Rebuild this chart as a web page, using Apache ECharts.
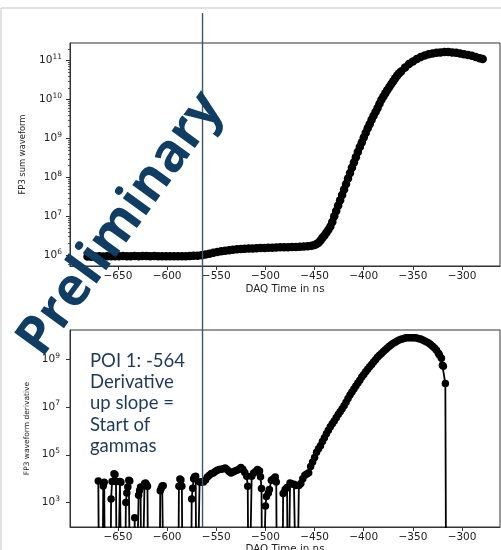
<!DOCTYPE html>
<html><head><meta charset="utf-8">
<script src="https://cdn.jsdelivr.net/npm/echarts@6/dist/echarts.min.js"></script>
<style>html,body{margin:0;padding:0;background:#fff}#c{width:501px;height:550px}</style>
</head><body><div id="c"></div>
<script>
// ---- data ----
const xTicks = [-650, -600, -550, -500, -450, -400, -350, -300];
const sumTicks = [1e6, 1e7, 1e8, 1e9, 1e10, 1e11];
const derivTicks = [1e3, 1e5, 1e7, 1e9];
const poiTime = -564;
const xRange = [-698.8, -261.4];
const sumRange = [5.31e5, 2.82e11];
const derivRange = [95, 1.66e10];

// FP3 sum waveform: [time ns, value]
const sumWaveform = [
 [-681,9.3e5],[-677,9.2e5],[-673,9.3e5],[-669,9.4e5],[-665,9.3e5],[-661,9.4e5],[-657,9.5e5],[-653,9.4e5],
 [-649,9.5e5],[-645,9.6e5],[-641,9.5e5],[-637,9.5e5],[-633,9.6e5],[-629,9.5e5],[-625,9.6e5],[-621,9.6e5],
 [-617,9.5e5],[-613,9.6e5],[-609,9.5e5],[-605,9.4e5],[-601,9.5e5],[-597,9.4e5],[-593,9.5e5],[-589,9.4e5],
 [-585,9.5e5],[-581,9.5e5],[-577,9.6e5],[-573,9.7e5],[-569,9.8e5],
 [-565,1.0e6],[-561,1.05e6],[-557,1.1e6],[-553,1.16e6],[-549,1.22e6],[-545,1.27e6],[-541,1.31e6],[-537,1.35e6],
 [-533,1.39e6],[-529,1.42e6],[-525,1.45e6],[-521,1.47e6],[-517,1.49e6],[-513,1.5e6],[-509,1.52e6],[-505,1.54e6],
 [-501,1.55e6],[-497,1.56e6],[-493,1.57e6],[-489,1.58e6],[-485,1.6e6],[-481,1.61e6],[-477,1.62e6],[-473,1.63e6],
 [-469,1.64e6],[-465,1.65e6],[-461,1.67e6],[-457,1.7e6],[-453,1.76e6],[-450,1.85e6],[-448,1.95e6],
 [-446,2.1e6],[-444,2.4e6],[-442,2.8e6],[-440,3.2e6],[-438,3.8e6],[-436,4.5e6],[-434,5.5e6],[-432,7.2e6],
 [-430,1.0e7],[-428,1.38e7],[-426,1.9e7],[-424,2.6e7],[-422,3.55e7],[-420,4.9e7],[-418,6.8e7],[-416,9.3e7],
 [-414,1.29e8],[-412,1.78e8],[-410,2.4e8],[-408,3.3e8],[-406,4.5e8],[-404,6.0e8],[-402,7.9e8],[-400,1.05e9],
 [-398,1.38e9],[-396,1.82e9],[-394,2.3e9],[-392,3.0e9],[-390,3.8e9],[-388,4.8e9],[-386,6.0e9],[-384,7.8e9],
 [-382,9.8e9],[-380,1.2e10],[-378,1.45e10],[-376,1.74e10],[-374,2.1e10],[-372,2.5e10],[-370,2.95e10],[-368,3.5e10],
 [-366,4.1e10],[-364,4.7e10],[-362,5.25e10],[-358,6.6e10],[-354,8.1e10],[-350,9.5e10],[-346,1.1e11],[-342,1.23e11],
 [-338,1.35e11],[-334,1.45e11],[-330,1.51e11],[-326,1.58e11],[-322,1.62e11],[-318,1.66e11],[-314,1.66e11],[-310,1.62e11],
 [-306,1.58e11],[-302,1.51e11],[-298,1.45e11],[-294,1.38e11],[-290,1.32e11],[-286,1.23e11],[-282,1.15e11],[-279,1.1e11]
];

// FP3 waveform derivative: [time ns, value]; 0 = non-positive (drops below the log axis)
const derivWaveform = [
 [-670,7.9e3],[-669,0],[-666,0],[-665,4.9e3],[-664,7.1e3],[-663,0],[-658,0],[-657,1.4e3],[-656,7.6e3],
 [-654,1.6e4],[-653,1.5e4],[-652,7.6e3],[-651,0],[-649,0],[-648,7.6e3],[-647,7.0e3],[-646,0],[-643,0],
 [-642,1.0e3],[-641,2.5e3],[-640,4.5e3],[-639,8.5e3],[-638,8.0e3],[-637,0],[-634,0],[-633,2.3e2],[-632,0],
 [-630,0],[-629,2.0e3],[-628,3.2e3],[-627,4.5e3],[-626,0],[-624,0],[-623,6.2e3],[-622,6.6e3],[-621,5.6e3],
 [-620,4.8e3],[-619,0],[-608,0],[-607,3.1e3],[-606,4.0e3],[-605,4.9e3],[-604,5.0e3],[-603,0],[-589,0],
 [-588,4.8e3],[-587,9.8e3],[-586,8.9e3],[-585,4.8e3],[-584,0],[-576,0],[-575,1.4e3],[-574,4.0e3],[-573,1.0e4],
 [-572,1.2e4],[-571,1.26e4],[-570,0],[-568,0],[-567,7.2e3],[-566,7.0e3],[-565,7.2e3],[-563,7.3e3],[-561,8.9e3],
 [-559,1.17e4],[-557,1.4e4],[-555,1.66e4],[-553,1.74e4],[-551,2.0e4],[-549,2.24e4],[-547,2.4e4],[-545,2.5e4],
 [-543,2.6e4],[-541,2.8e4],[-539,2.4e4],[-537,2.0e4],[-535,1.74e4],[-533,1.9e4],[-531,2.1e4],[-529,2.24e4],
 [-527,2.5e4],[-525,2.9e4],[-523,2.5e4],[-521,1.8e4],[-519,1.26e4],[-518,4.8e3],[-517,0],[-515,0],
 [-514,1.26e4],[-512,1.74e4],[-510,2.0e4],[-508,2.4e4],[-506,2.1e4],[-505,1.2e4],[-504,3.9e3],[-503,0],
 [-501,0],[-500,7.1e2],[-499,1.8e3],[-497,2.5e3],[-496,3.5e3],[-494,8.5e3],[-492,1.0e4],[-490,1.17e4],
 [-489,7.2e3],[-488,0],[-483,0],[-482,2.4e3],[-480,3.5e3],[-478,4.3e3],[-477,0],[-476,0],[-475,6.6e3],
 [-473,6.0e3],[-471,5.9e3],[-469,5.2e3],[-468,0],[-467,0],[-466,5.2e3],[-464,6.3e3],[-462,1.0e4],[-460,1.38e4],
 [-458,1.58e4],[-456,1.78e4],[-454,3.2e4],[-452,5.0e4],[-450,7.6e4],[-448,1.26e5],[-446,1.78e5],[-444,2.4e5],
 [-442,3.55e5],[-440,5.2e5],[-438,7.6e5],[-436,1.07e6],[-434,1.48e6],[-432,2.0e6],[-430,2.6e6],[-428,3.55e6],
 [-426,4.8e6],[-424,6.3e6],[-422,8.5e6],[-420,1.12e7],[-418,1.58e7],[-416,2.24e7],[-414,3.2e7],[-412,4.2e7],
 [-410,5.6e7],[-408,7.6e7],[-406,1.0e8],[-404,1.32e8],[-402,1.78e8],[-400,2.3e8],[-398,3.0e8],[-396,3.8e8],
 [-394,4.8e8],[-392,6.0e8],[-390,7.6e8],[-388,9.5e8],[-386,1.2e9],[-384,1.45e9],[-382,1.74e9],[-380,2.1e9],
 [-378,2.5e9],[-376,2.95e9],[-374,3.5e9],[-372,4.0e9],[-370,4.6e9],[-368,5.1e9],[-366,5.75e9],[-364,6.3e9],
 [-362,6.8e9],[-360,7.2e9],[-358,7.6e9],[-356,7.8e9],[-354,7.9e9],[-352,7.9e9],[-350,7.9e9],[-348,7.8e9],
 [-346,7.6e9],[-344,7.2e9],[-342,6.9e9],[-340,6.3e9],[-338,5.75e9],[-336,5.25e9],[-334,4.7e9],[-332,4.1e9],
 [-330,3.5e9],[-328,2.9e9],[-326,2.35e9],[-324,1.78e9],[-323,1.5e9],[-321,1.1e9],[-320,5.5e8],[-319,5.0e8],
 [-317,9.5e7],[-316,0],[-279,0]
];

// ---- rendering ----
const FLOOR = 1e-3; // stand-in for non-positive values on a log axis (clipped)
const TXT = '#222';
const FONT = 'DejaVu Sans';
const sumMinor = [];
for (let k = 5; k <= 11; k++) for (let m = 2; m <= 9; m++) {
  const v = m * Math.pow(10, k);
  if (v > sumRange[0] && v < sumRange[1]) sumMinor.push(v);
}
function logLabel(v) {
  const e = String(Math.round(Math.log10(v)));
  return '{b|10}{e|' + e + '}';
}
const logRich = {
  b: {fontSize: 10.5, fontFamily: FONT, color: TXT},
  e: {fontSize: 7.5, fontFamily: FONT, color: TXT, padding: [0, 0, 7, 0]}
};
function xLabel(v) { return String(v).replace('-', '\u2212'); }

const xAxisBase = (grid, gap) => ({
  gridIndex: grid, type: 'value', min: xRange[0], max: xRange[1],
  axisLine: {show: true, lineStyle: {color: '#333', width: 1}},
  axisTick: {show: true, customValues: xTicks, length: 4, lineStyle: {color: '#333'}},
  axisLabel: {customValues: xTicks, formatter: xLabel, margin: 5, fontSize: 10.5, fontFamily: FONT, color: TXT},
  splitLine: {show: false},
  name: 'DAQ Time in ns', nameLocation: 'middle', nameGap: gap,
  nameTextStyle: {fontSize: 10.3, fontFamily: FONT, color: TXT}
});

const option = {
  animation: false,
  backgroundColor: '#fff',
  grid: [
    {left: 70, right: 1, top: 43, height: 223, show: true, borderColor: '#333', borderWidth: 1, outerBoundsMode: 'none'},
    {left: 70, right: 1, top: 330, height: 197, show: true, borderColor: '#333', borderWidth: 1, outerBoundsMode: 'none'},
    {left: 70, right: 1, top: 13, height: 514, outerBoundsMode: 'none'}
  ],
  xAxis: [
    xAxisBase(0, 18),
    xAxisBase(1, 9),
    {gridIndex: 2, type: 'value', min: xRange[0], max: xRange[1], show: false}
  ],
  yAxis: [
    {gridIndex: 0, type: 'log', min: sumRange[0], max: sumRange[1], position: 'left',
     axisLine: {show: true, lineStyle: {color: '#333'}},
     axisTick: {show: true, customValues: sumTicks, length: 4, lineStyle: {color: '#333'}},
     axisLabel: {customValues: sumTicks, formatter: logLabel, rich: logRich, margin: 8},
     splitLine: {show: false},
     name: 'FP3 sum waveform', nameLocation: 'middle', nameGap: 43, nameRotate: 90,
     nameTextStyle: {fontSize: 8.4, fontFamily: FONT, color: TXT}},
    {gridIndex: 0, type: 'log', min: sumRange[0], max: sumRange[1], position: 'left',
     axisLine: {show: false},
     axisTick: {show: true, customValues: sumMinor, length: 2, lineStyle: {color: '#333', width: 0.8}},
     axisLabel: {show: false}, splitLine: {show: false}},
    {gridIndex: 1, type: 'log', min: derivRange[0], max: derivRange[1], position: 'left',
     axisLine: {show: true, lineStyle: {color: '#333'}},
     axisTick: {show: true, customValues: derivTicks, length: 4, lineStyle: {color: '#333'}},
     axisLabel: {customValues: derivTicks, formatter: logLabel, rich: logRich, margin: 10},
     splitLine: {show: false},
     name: 'FP3 waveform derivative', nameLocation: 'middle', nameGap: 38, nameRotate: 90,
     nameTextStyle: {fontSize: 7.5, fontFamily: FONT, color: TXT}},
    {gridIndex: 2, type: 'value', min: 0, max: 1, show: false}
  ],
  series: [
    {type: 'line', xAxisIndex: 0, yAxisIndex: 0, data: sumWaveform, clip: true,
     symbol: 'circle', symbolSize: 8.5, itemStyle: {color: '#000'},
     lineStyle: {color: '#000', width: 6.5}},
    {type: 'line', xAxisIndex: 1, yAxisIndex: 2, clip: true,
     data: derivWaveform.map(p => [p[0], p[1] > 0 ? p[1] : FLOOR]),
     symbol: 'circle', symbolSize: (val) => (val[1] > 1 ? 7.5 : 0),
     itemStyle: {color: '#000'}, lineStyle: {color: '#000', width: 1.8}},
    {type: 'line', xAxisIndex: 2, yAxisIndex: 3, data: [[poiTime, 0], [poiTime, 1]],
     symbol: 'none', lineStyle: {color: '#43556b', width: 1.4}, z: 5}
  ],
  graphic: [
    {type: 'rect', z: -10, shape: {x: 1, y: 8, width: 700, height: 700},
     style: {fill: 'none', stroke: '#c4c4c4', lineWidth: 1}},
    {type: 'text', x: 90, y: 350, z: 50,
     style: {text: 'POI 1: -564\nDerivative\nup slope =\nStart of\ngammas',
             font: '18.5px Lato', fill: '#1c3a5a', lineHeight: 21.3}},
    {type: 'text', x: 121, y: 224, rotation: 54 * Math.PI / 180, z: 100,
     style: {text: 'Preliminary', font: 'bold 53px "Open Sans"', fill: '#0f3d63',
             align: 'center', verticalAlign: 'middle', textAlign: 'center', textVerticalAlign: 'middle'}}
  ]
};
const chart = echarts.init(document.getElementById('c'), null, {renderer: 'canvas'});
chart.setOption(option);
</script></body></html>
